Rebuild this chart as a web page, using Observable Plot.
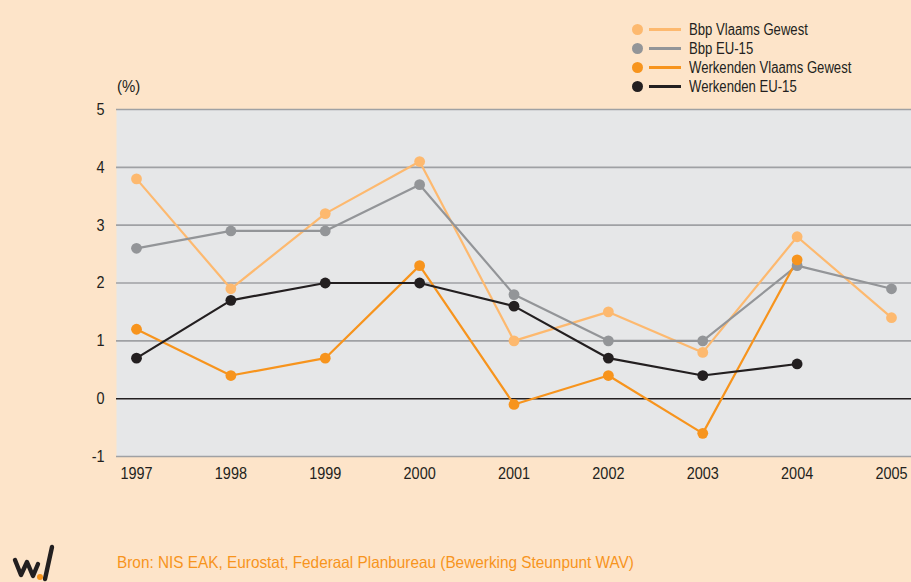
<!DOCTYPE html>
<html>
<head>
<meta charset="utf-8">
<script src="https://cdn.jsdelivr.net/npm/d3@7"></script>
<script src="https://cdn.jsdelivr.net/npm/@observablehq/plot@0.6"></script>
<style>
  html, body { margin: 0; padding: 0; background: #fde4c9; }
  #wrap { position: relative; width: 911px; height: 582px; overflow: hidden; background: #fde4c9;
          font-family: "Liberation Sans", Arial, sans-serif; color: #231f20; }
  #chart { position: absolute; left: 0; top: 0; }
  .legend { position: absolute; left: 632px; top: 20px; font-size: 16px; }
  .legend .row { display: flex; align-items: center; height: 19px; }
  .legend .dot { width: 11px; height: 11px; border-radius: 50%; margin-right: 6px; flex: none; }
  .legend .ln { width: 32px; height: 3px; margin-right: 8px; flex: none; }
  .legend .txt { display: inline-block; transform: scaleX(0.82); transform-origin: left center; white-space: nowrap; }
  .unit { position: absolute; left: 117px; top: 77px; font-size: 17px; transform: scaleX(0.88); transform-origin: left top; }
  .caption { position: absolute; left: 117px; top: 553px; font-size: 16.5px; color: #f7941d; white-space: nowrap;
             transform: scaleX(0.93); transform-origin: left top; }
  .logo { position: absolute; left: 0; top: 540px; }
</style>
</head>
<body>
<div id="wrap">
  <div id="chart"></div>
  <div class="unit">(%)</div>
  <div class="legend" id="legend"></div>
  <svg class="logo" width="60" height="42" viewBox="0 0 60 42">
    <path d="M15,20 L21,35 L27,22 L33,36 L38,24" fill="none" stroke="#231f20" stroke-width="4.4" stroke-linejoin="round" stroke-linecap="round"/>
    <path d="M52,7 L45,39" fill="none" stroke="#231f20" stroke-width="4.4" stroke-linecap="round"/>
    <circle cx="40" cy="37" r="3" fill="#f7941d"/>
  </svg>
  <div class="caption">Bron: NIS EAK, Eurostat, Federaal Planbureau (Bewerking Steunpunt WAV)</div>
</div>
<script>
const years = [1997, 1998, 1999, 2000, 2001, 2002, 2003, 2004, 2005];
const seriesNames = ["Bbp Vlaams Gewest", "Bbp EU-15", "Werkenden Vlaams Gewest", "Werkenden EU-15"];
const seriesColors = ["#fdb96f", "#939598", "#f7941d", "#231f20"];
const bbpVlaams = [3.8, 1.9, 3.2, 4.1, 1.0, 1.5, 0.8, 2.8, 1.4];
const bbpEU = [2.6, 2.9, 2.9, 3.7, 1.8, 1.0, 1.0, 2.3, 1.9];
const werkVlaams = [1.2, 0.4, 0.7, 2.3, -0.1, 0.4, -0.6, 2.4, null];
const werkEU = [0.7, 1.7, 2.0, 2.0, 1.6, 0.7, 0.4, 0.6, null];
const yTicks = [-1, 0, 1, 2, 3, 4, 5];

const seriesValues = [bbpVlaams, bbpEU, werkVlaams, werkEU];
const data = [];
seriesNames.forEach((name, i) => {
  seriesValues[i].forEach((v, j) => {
    if (v !== null) data.push({series: name, year: years[j], value: v});
  });
});

const fontFam = "'Liberation Sans', Arial, sans-serif";
const chart = Plot.plot({
  width: 911,
  height: 582,
  marginLeft: 116,
  marginRight: 0,
  marginTop: 109,
  marginBottom: 126,
  style: {background: "transparent", fontFamily: fontFam, fontSize: "17px", color: "#231f20"},
  x: {domain: [1997, 2005], insetLeft: 20, insetRight: 20, label: null},
  y: {domain: [-1, 5], label: null},
  color: {domain: seriesNames, range: seriesColors},
  marks: [
    Plot.frame({fill: "#e6e7e8", stroke: null}),
    Plot.ruleY(yTicks.filter(d => d !== 0), {stroke: "#9fa1a4", strokeWidth: 1.6}),
    Plot.ruleY([0], {stroke: "#231f20", strokeWidth: 1.5}),
    Plot.line(data, {x: "year", y: "value", z: "series", stroke: "series", strokeWidth: 2.2}),
    Plot.dot(data, {x: "year", y: "value", fill: "series", r: 5.4}),
    Plot.axisX({ticks: years, tickFormat: d => String(d), tickSize: 0, tickPadding: 10, fill: "#231f20", fontSize: 17}),
    Plot.axisY({ticks: yTicks, tickFormat: d => String(d), tickSize: 0, tickPadding: 12, fill: "#231f20", fontSize: 17})
  ]
});
document.getElementById("chart").appendChild(chart);

// condense tick labels horizontally to mimic the narrow typeface of the original
chart.querySelectorAll('g[aria-label="x-axis tick label"] text, g[aria-label="y-axis tick label"] text').forEach(t => {
  const w = t.getComputedTextLength();
  t.setAttribute("textLength", (w * 0.85).toFixed(2));
  t.setAttribute("lengthAdjust", "spacingAndGlyphs");
});

const legend = document.getElementById("legend");
seriesNames.forEach((name, i) => {
  const row = document.createElement("div");
  row.className = "row";
  row.innerHTML = `<span class="dot" style="background:${seriesColors[i]}"></span><span class="ln" style="background:${seriesColors[i]}"></span><span class="txt">${name}</span>`;
  legend.appendChild(row);
});
</script>
</body>
</html>
